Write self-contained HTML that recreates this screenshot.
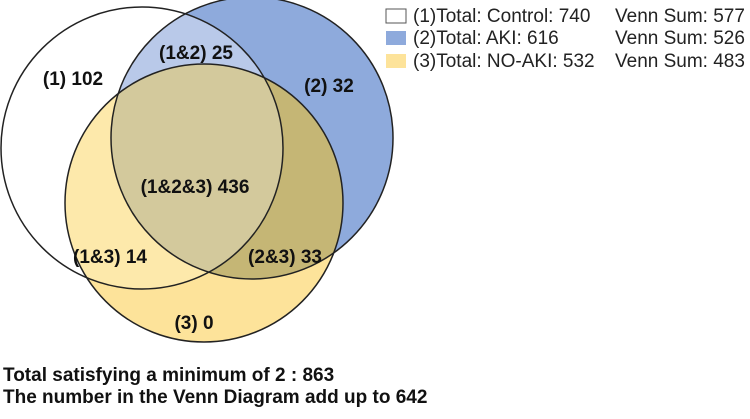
<!DOCTYPE html>
<html><head><meta charset="utf-8"><style>
body{margin:0;background:#fff;width:750px;height:414px;overflow:hidden;font-family:"Liberation Sans",Arial,sans-serif}
.lab{font-weight:bold;font-size:19px;fill:#111;text-anchor:middle}
.leg{font-size:19px;fill:#222}
.foot{font-weight:bold;font-size:19px;fill:#111}
</style></head><body>
<svg width="750" height="414">
<defs>
<clipPath id="c1"><circle cx="142" cy="148" r="141"/></clipPath>
<clipPath id="c2"><circle cx="252" cy="138" r="141"/></clipPath>
</defs>
<g>
<circle cx="252" cy="138" r="141" fill="#8eaadc"/>
<circle cx="204" cy="203" r="139" fill="#fde39a"/>
<g clip-path="url(#c1)"><circle cx="252" cy="138" r="141" fill="#b9c9e9"/><circle cx="204" cy="203" r="139" fill="#fde9ab"/></g>
<g clip-path="url(#c2)"><circle cx="204" cy="203" r="139" fill="#c5b675"/></g>
<g clip-path="url(#c1)"><g clip-path="url(#c2)"><circle cx="204" cy="203" r="139" fill="#d3c99c"/></g></g>
</g>
<circle cx="142" cy="148" r="141" fill="none" stroke="#222" stroke-width="1.5"/>
<circle cx="252" cy="138" r="141" fill="none" stroke="#222" stroke-width="1.5"/>
<circle cx="204" cy="203" r="139" fill="none" stroke="#222" stroke-width="1.5"/>
<text class="lab" x="73" y="85">(1) 102</text>
<text class="lab" x="196" y="59">(1&amp;2) 25</text>
<text class="lab" x="329" y="92">(2) 32</text>
<text class="lab" x="195" y="193">(1&amp;2&amp;3) 436</text>
<text class="lab" x="110" y="263">(1&amp;3) 14</text>
<text class="lab" x="285" y="263">(2&amp;3) 33</text>
<text class="lab" x="194" y="329">(3) 0</text>
<g>
<rect x="386" y="9" width="20" height="14" fill="#fff" stroke="#555"/>
<rect x="386" y="31" width="20" height="14" fill="#8eaadc"/>
<rect x="386" y="54" width="20" height="14" fill="#fde39a"/>
<text class="leg" x="413" y="22">(1)Total: Control: 740</text>
<text class="leg" x="413" y="44">(2)Total: AKI: 616</text>
<text class="leg" x="413" y="67">(3)Total: NO-AKI: 532</text>
<text class="leg" x="615" y="22">Venn Sum: 577</text>
<text class="leg" x="615" y="44">Venn Sum: 526</text>
<text class="leg" x="615" y="67">Venn Sum: 483</text>
</g>
<text class="foot" x="3" y="381">Total satisfying a minimum of 2 : 863</text>
<text class="foot" x="3" y="403">The number in the Venn Diagram add up to 642</text>
</svg>
</body></html>
